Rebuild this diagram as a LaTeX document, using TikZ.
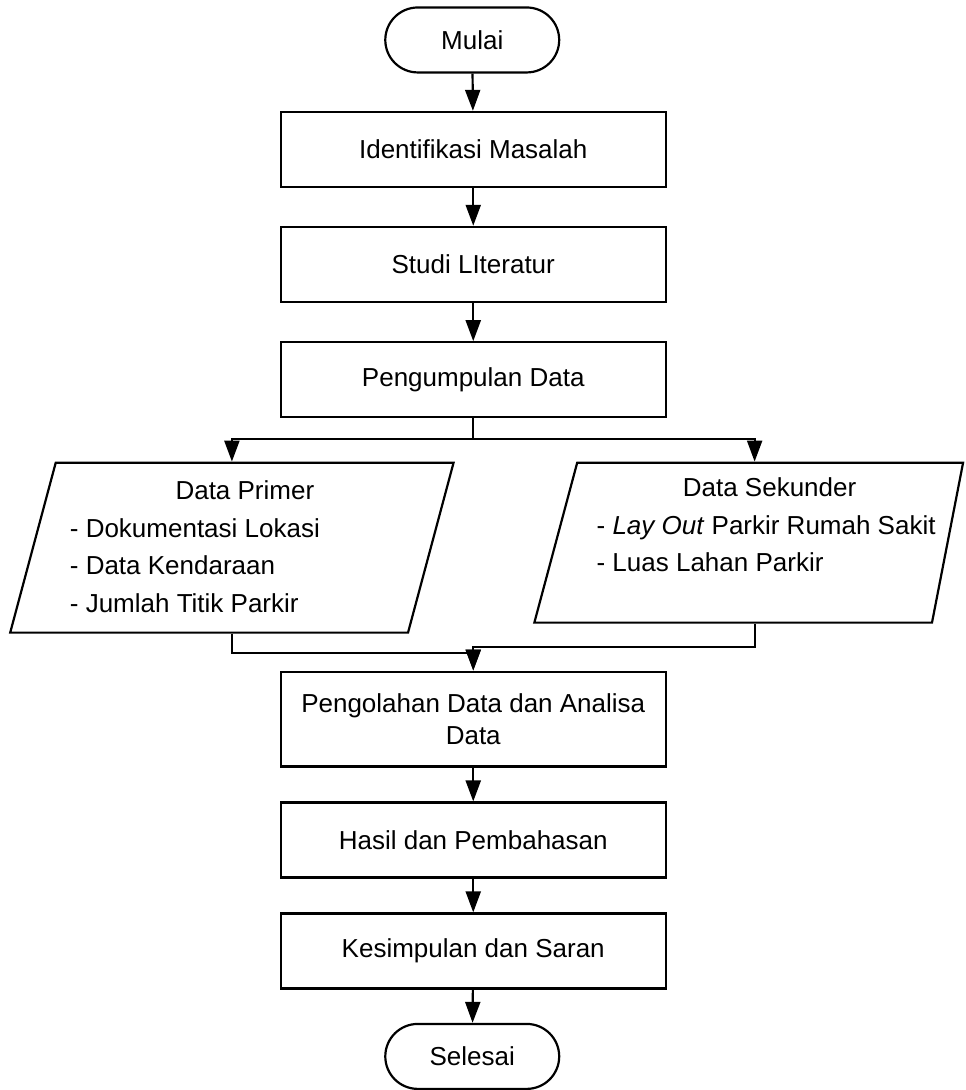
\documentclass[tikz,border=0pt]{standalone}
\usepackage{fontspec}
\setmainfont{Liberation Sans}
\usetikzlibrary{arrows.meta,shapes.geometric}

\begin{document}
\begin{tikzpicture}[
        line width=1.25pt,
        kotak/.style={draw,rectangle,minimum width=7.7cm,minimum height=1.5cm,align=center,font=\fontsize{14.8}{18.1}\selectfont},
        terminal/.style={draw,rectangle,rounded corners=0.65cm,minimum width=3.48cm,minimum height=1.3cm,font=\fontsize{14.8}{18.1}\selectfont},
        jajar/.style={draw,trapezium,trapezium left angle=75,inner sep=0pt,text depth=0pt},
        isi/.style={align=left,font=\fontsize{14.8}{21.5}\selectfont},
        panah/.style={-{Triangle[length=0.42cm,width=0.3cm]}}
    ]
        % Background
        \draw[draw=none,fill=white] (0,0) rectangle (19.32,21.8);

        % Flow
        \node[terminal] (mulai) at (9.45,21.0) {Mulai};
        \node[kotak] (identifikasi) at (9.47,18.81) {Identifikasi Masalah};
        \node[kotak] (studi) at (9.47,16.51) {Studi LIteratur};
        \node[kotak] (pengumpulan) at (9.47,14.2) {Pengumpulan Data};
        \node[jajar,trapezium right angle=105,text width=7.05cm,text height=3.4cm] (primer) at (4.64,10.84) {};
        \node[jajar,trapezium right angle=101,text width=7.1cm,text height=3.2cm] (sekunder) at (15.1,10.94) {};
        \node[kotak,minimum height=1.9cm] (pengolahan) at (9.47,7.41) {Pengolahan Data dan Analisa\\Data};
        \node[kotak] (hasil) at (9.47,4.99) {Hasil dan Pembahasan};
        \node[kotak] (kesimpulan) at (9.47,2.77) {Kesimpulan dan Saran};
        \node[terminal] (selesai) at (9.45,0.66) {Selesai};

        % Labels
        \node[isi] (primerjudul) at (4.9,12.0) {Data Primer};
        \node[isi,anchor=west] (primerisi) at (1.26,10.48) {- Dokumentasi Lokasi\\- Data Kendaraan\\- Jumlah Titik Parkir};
        \node[isi] (sekunderjudul) at (15.4,12.06) {Data Sekunder};
        \node[isi,anchor=west] (sekunderisi) at (11.8,10.92) {- \textit{Lay Out} Parkir Rumah Sakit\\- Luas Lahan Parkir};

        % Connectors
        \coordinate (cabang) at (9.47,13.02);
        \coordinate (gabungkiri) at (9.47,8.74);
        \coordinate (gabungkanan) at (9.47,8.86);
        \foreach \a/\b in {mulai/identifikasi,identifikasi/studi,studi/pengumpulan,pengolahan/hasil,hasil/kesimpulan,kesimpulan/selesai}
            \draw[panah] (\a) -- (\b);
        \draw (pengumpulan) -- (cabang);
        \draw[panah] (cabang) -| (primer.north);
        \draw[panah] (cabang) -| (sekunder.north);
        \draw[panah] (primer.south) |- (gabungkiri) -- (pengolahan);
        \draw[panah] (sekunder.south) |- (gabungkanan) -- (pengolahan);

\end{tikzpicture}
\end{document}
